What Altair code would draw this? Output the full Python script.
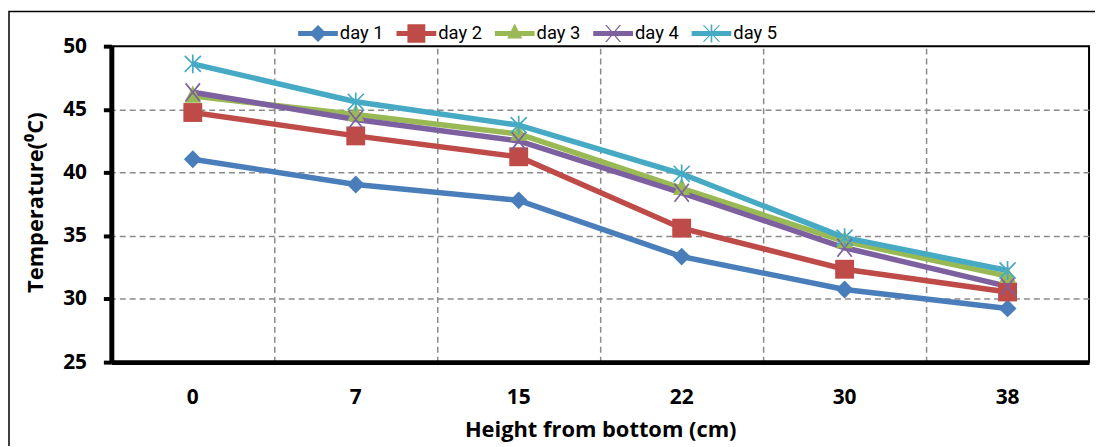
import altair as alt
import pandas as pd

heights = ["0", "7", "15", "22", "30", "38"]
days = ["day 1", "day 2", "day 3", "day 4", "day 5"]
day1 = [41.05, 39.05, 37.8, 33.35, 30.75, 29.25]
day2 = [44.75, 42.9, 41.25, 35.6, 32.35, 30.55]
day3 = [46.05, 44.6, 43.05, 38.75, 34.55, 31.8]
day4 = [46.35, 44.2, 42.5, 38.4, 34.05, 31.0]
day5 = [48.6, 45.6, 43.75, 39.9, 34.85, 32.25]
series = [day1, day2, day3, day4, day5]
colors = ["#4A7EBB", "#BE4B48", "#98B954", "#7D60A0", "#46AAC5"]
y_ticks = [25, 30, 35, 40, 45, 50]
y_grid_values = [30, 35, 40, 45]

rows = []
for d, vals in zip(days, series):
    for i, (h, v) in enumerate(zip(heights, vals)):
        rows.append({"height": h, "idx": i, "day": d, "temp": v})
df = pd.DataFrame(rows)

AX_FONT = "Open Sans"
LEG_FONT = "Roboto"
GRID = "#8a8a8a"

xscale = alt.Scale(type="band", domain=heights, paddingInner=0, paddingOuter=0)
yscale = alt.Scale(domain=[25, 50], nice=False, zero=False)
cscale = alt.Scale(domain=days, range=colors)

x_bottom = alt.X("height:N", scale=xscale, sort=heights, title="Height from bottom (cm)",
                 axis=alt.Axis(orient="bottom", labelAngle=0, ticks=False, grid=False,
                               domainColor="black", domainWidth=5,
                               labelFont=AX_FONT, labelFontSize=21, labelFontWeight="bold",
                               labelColor="black", labelPadding=25,
                               titleFont=AX_FONT, titleFontSize=22, titleFontWeight="bold",
                               titleColor="black", titleX=492, titleY=75,
                               titleBaseline="alphabetic", titleAlign="center"))
x_grid = alt.X("height:N", scale=xscale, sort=heights,
               axis=alt.Axis(orient="top", grid=True, gridDash=[6, 4], gridColor=GRID,
                             gridWidth=1.5, labels=False, ticks=False, domain=False,
                             title=None, bandPosition=0))
x_none = alt.X("height:N", scale=xscale, sort=heights, axis=None)

y_main = alt.Y("temp:Q", scale=yscale, title="Temperature(⁰C)",
               axis=alt.Axis(orient="left", values=y_ticks, grid=False,
                             tickSize=8, tickWidth=4, tickColor="black",
                             domainColor="black", domainWidth=5,
                             labelFont=AX_FONT, labelFontSize=21, labelFontWeight="bold",
                             labelColor="black", labelPadding=17,
                             titleFont=AX_FONT, titleFontSize=22, titleFontWeight="bold",
                             titleColor="black", titleX=-69, titleY=157, titleAngle=270,
                             titleBaseline="alphabetic", titleAlign="center"))
y_grid = alt.Y("temp:Q", scale=yscale,
               axis=alt.Axis(orient="right", values=y_grid_values, grid=True, gridDash=[6, 4],
                             gridColor=GRID, gridWidth=1.5, labels=False, ticks=False,
                             domain=False, title=None))
y_none = alt.Y("temp:Q", scale=yscale, axis=None)

color_nolegend = alt.Color("day:N", scale=cscale, legend=None)

# legend symbols: line + marker, as filled paths (unit = 20px)
L = "M-1,-0.13L1,-0.13L1,0.13L-1,0.13Z"
leg_paths = [
    L + "M0,-0.43L0.43,0L0,0.43L-0.43,0Z",
    L + "M-0.45,-0.47L0.45,-0.47L0.45,0.47L-0.45,0.47Z",
    L + "M0,-0.5L0.38,0.25L-0.38,0.25Z",
    L + "M-0.4,-0.43L-0.32,-0.43L0.4,0.43L0.32,0.43ZM0.32,-0.43L0.4,-0.43L-0.32,0.43L-0.4,0.43Z",
    L + "M-0.44,-0.42L-0.36,-0.42L0.44,0.42L0.36,0.42ZM0.36,-0.42L0.44,-0.42L-0.36,0.42L-0.44,0.42Z"
      + "M-0.04,-0.45L0.04,-0.45L0.04,0.45L-0.04,0.45Z",
]

leg = alt.Legend(orient="none", legendX=188, legendY=-33, direction="horizontal", columns=5,
                 title=None, symbolSize=1600, symbolStrokeWidth=0, symbolOpacity=1,
                 labelFont=LEG_FONT, labelFontSize=18.5, labelColor="black", labelOffset=2,
                 columnPadding=12, padding=0)

# legend carrier (draws nothing, only provides the legend)
carrier = alt.Chart(df).transform_filter("false").mark_point(filled=True, opacity=1).encode(
    color=alt.Color("day:N", scale=cscale, legend=leg),
    shape=alt.Shape("day:N", scale=alt.Scale(domain=days, range=leg_paths), legend=leg),
)

# outer chart frame
frame = alt.Chart(pd.DataFrame({"k": [0]})).mark_rect(
    fill=None, stroke="black", strokeWidth=1.5
).encode(x=alt.value(-103), x2=alt.value(1010), y=alt.value(-35), y2=alt.value(430))

lines = alt.Chart(df).mark_line(strokeWidth=5.5).encode(
    x=x_bottom, y=y_main, color=color_nolegend, order=alt.Order("idx:Q")
)

marker_defs = [
    dict(shape="diamond", size=324, filled=True),
    dict(shape="square", size=361, filled=True),
    dict(shape="M0,-1.25L1,0.8L-1,0.8Z", size=289, filled=True),
    dict(shape="M-0.8,-1L0.8,1M-0.8,1L0.8,-1", size=324, filled=False, strokeWidth=1.7),
    dict(shape="M-0.9,-0.9L0.9,0.9M-0.9,0.9L0.9,-0.9M0,-1.05L0,1.05", size=324, filled=False, strokeWidth=1.7),
]

point_layers = []
for i, (d, md) in enumerate(zip(days, marker_defs)):
    xe = x_grid if i == 0 else x_none
    ye = y_grid if i == 0 else y_none
    pl = alt.Chart(df).transform_filter(alt.datum.day == d).mark_point(opacity=1, **md).encode(
        x=xe, y=ye, color=color_nolegend
    )
    point_layers.append(pl)

chart = alt.layer(carrier, frame, lines, *point_layers).resolve_axis(
    x="independent", y="independent"
).properties(
    width=984, height=318,
    autosize=alt.AutoSizeParams(type="none"),
    padding={"left": 104, "top": 37, "right": 6, "bottom": 83},
    background="white",
).configure_view(stroke="black", strokeWidth=2)

chart.save("out.html", embed_options={"renderer": "svg", "actions": False})
